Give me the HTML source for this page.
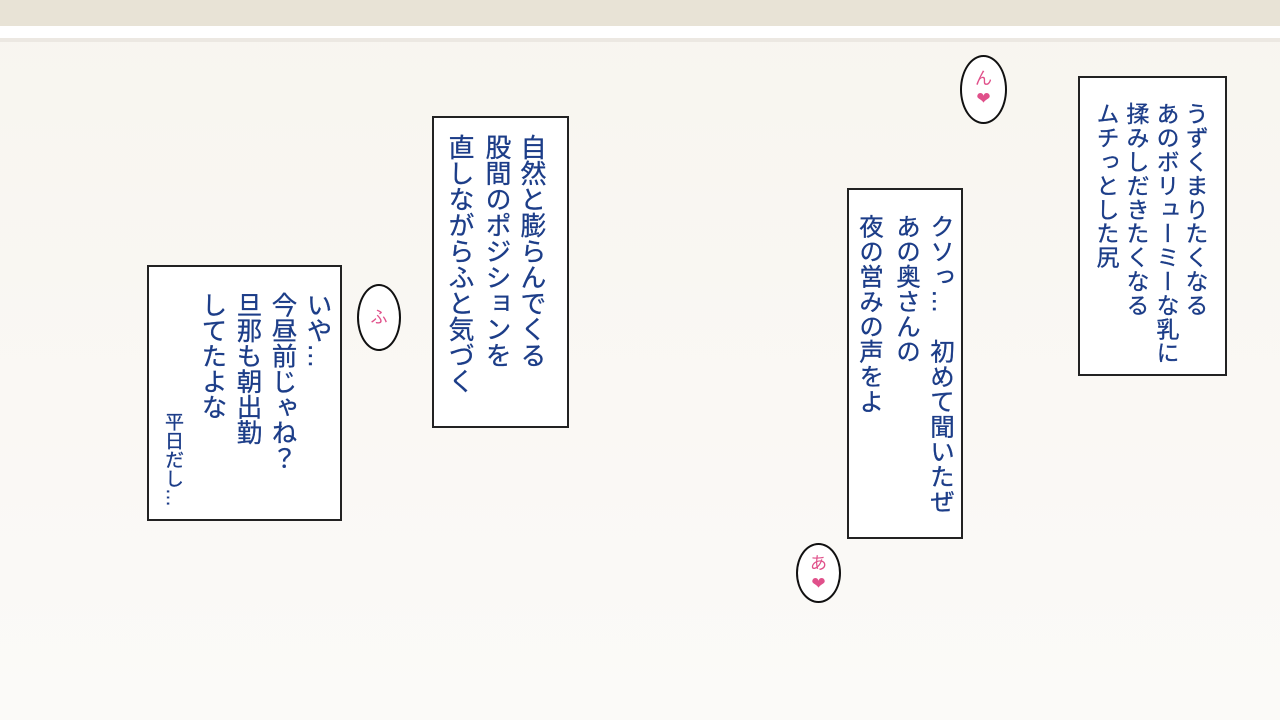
<!DOCTYPE html>
<html><head><meta charset="utf-8"><style>
body{margin:0;width:1280px;height:720px;overflow:hidden;background:linear-gradient(#f8f5ef,#fbfaf8);position:relative;font-family:"Liberation Sans","Noto Sans CJK JP",sans-serif}
.bar1{position:absolute;left:0;top:0;width:1280px;height:26px;background:#e8e3d6}
.bar2{position:absolute;left:0;top:26px;width:1280px;height:12px;background:#fff}
.bar3{position:absolute;left:0;top:38px;width:1280px;height:4px;background:#ece8e2}
.box{position:absolute;background:#fff;border:2px solid #222;box-sizing:border-box}
.c{position:absolute;writing-mode:vertical-rl;color:#1c3d88;white-space:nowrap;letter-spacing:0;-webkit-text-stroke:0.3px #1c3d88}
.e{position:absolute;border:2px solid #111;border-radius:50%;background:#fff;box-sizing:border-box;color:#e0508a;text-align:center;font-size:17px;line-height:20px}
.b1{font-size:25.5px;line-height:26px;width:26px}
.b2{font-size:26px;line-height:26px;width:26px}
.b3{font-size:24.5px;line-height:25px;width:25px;letter-spacing:0.5px}
.b4{font-size:23px;line-height:24px;width:24px;letter-spacing:0.9px}
.s{font-size:19px;line-height:19px;width:19px}
</style></head><body>
<div class="bar1"></div><div class="bar2"></div><div class="bar3"></div>

<div class="box" style="left:147px;top:265px;width:195px;height:256px"></div>
<div class="c b1" style="left:304px;top:292px">いや…</div>
<div class="c b1" style="left:269px;top:292px">今昼前じゃね？</div>
<div class="c b1" style="left:234px;top:292px">旦那も朝出勤</div>
<div class="c b1" style="left:199px;top:292px">してたよな</div>
<div class="c s" style="left:163px;top:412px">平日だし…</div>

<div class="box" style="left:432px;top:116px;width:137px;height:312px"></div>
<div class="c b2" style="left:519px;top:134px">自然と膨らんでくる</div>
<div class="c b2" style="left:484px;top:134px">股間のポジションを</div>
<div class="c b2" style="left:447px;top:134px">直しながらふと気づく</div>

<div class="box" style="left:847px;top:188px;width:116px;height:351px"></div>
<div class="c b3" style="left:928px;top:214px">クソっ…　初めて聞いたぜ</div>
<div class="c b3" style="left:894px;top:214px">あの奥さんの</div>
<div class="c b3" style="left:857px;top:214px">夜の営みの声をよ</div>

<div class="box" style="left:1078px;top:76px;width:149px;height:300px"></div>
<div class="c b4" style="left:1183px;top:102px">うずくまりたくなる</div>
<div class="c b4" style="left:1154px;top:102px">あのボリューミーな乳に</div>
<div class="c b4" style="left:1124px;top:102px">揉みしだきたくなる</div>
<div class="c b4" style="left:1094px;top:102px">ムチっとした尻</div>

<div class="e" style="left:960px;top:55px;width:47px;height:69px;padding-top:12px">ん<br>❤</div>
<div class="e" style="left:357px;top:284px;width:44px;height:67px;padding-top:22px">ふ</div>
<div class="e" style="left:796px;top:543px;width:45px;height:60px;padding-top:9px">あ<br>❤</div>
</body></html>
